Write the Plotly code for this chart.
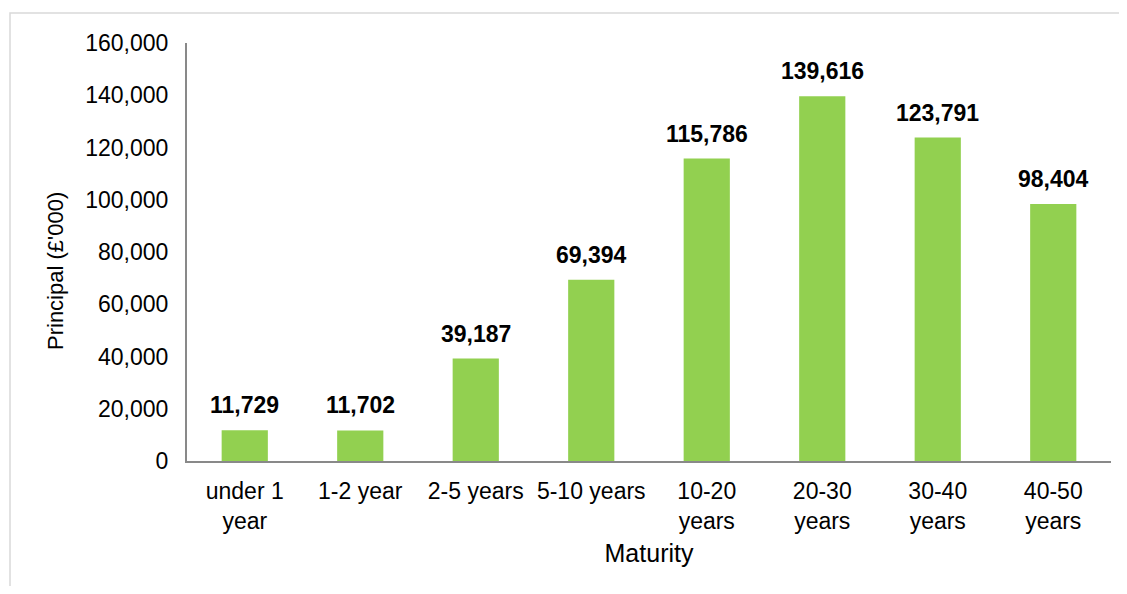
import plotly.graph_objects as go

categories = ["under 1<br>year", "1-2 year", "2-5 years", "5-10 years",
              "10-20<br>years", "20-30<br>years", "30-40<br>years", "40-50<br>years"]
principal = [11729, 11702, 39187, 69394, 115786, 139616, 123791, 98404]
y_ticks = [0, 20000, 40000, 60000, 80000, 100000, 120000, 140000, 160000]

OFF = 8  # page body margin
W, H = 1111, 578
L, R, T = 179, 8, 35
pw = W - L - R
ph = 418
B = H - T - ph

FONT = "Liberation Sans, Arial, sans-serif"

fig = go.Figure(go.Bar(
    x=categories, y=principal,
    marker=dict(color="#92D050", line=dict(width=0)),
    width=0.4,
    hoverinfo="x+y",
))

for c, v in zip(categories, principal):
    fig.add_annotation(
        x=c, y=v, text=f"<b>{v:,}</b>", showarrow=False,
        yanchor="bottom", yshift=10,
        font=dict(family=FONT, size=23, color="#000000"),
    )

# y-axis title (placed as annotation to match its offset position)
fig.add_annotation(
    xref="paper", yref="paper",
    x=(55 - OFF - L) / pw, y=(T + ph - (271 - OFF)) / ph,
    text="Principal (£'000)", textangle=-90, showarrow=False,
    xanchor="center", yanchor="middle",
    font=dict(family=FONT, size=22, color="#000000"),
)

fig.update_layout(
    width=W, height=H,
    margin=dict(l=L, r=R, t=T, b=B),
    plot_bgcolor="white", paper_bgcolor="white",
    font=dict(family=FONT, size=22, color="#000000"),
    showlegend=False,
    xaxis=dict(
        showline=True, linecolor="#898989", linewidth=2,
        ticks="", showgrid=False,
        tickfont=dict(size=23),
        ticklabelstandoff=8,
        title=dict(text="Maturity", font=dict(size=25), standoff=12),
    ),
    yaxis=dict(
        range=[0, 160000], tickvals=y_ticks,
        ticktext=[f"{v:,}" for v in y_ticks],
        showline=True, linecolor="#898989", linewidth=2,
        ticks="", showgrid=False, zeroline=False,
        tickfont=dict(size=23),
        ticklabelstandoff=12,
    ),
    shapes=[dict(
        type="rect", xref="paper", yref="paper",
        x0=(10 - OFF - L) / pw, x1=1.2,
        y0=-0.5, y1=(T + ph - (13 - OFF)) / ph,
        line=dict(color="#d9d9d9", width=1.5),
        fillcolor="rgba(0,0,0,0)", layer="below",
    )],
)

fig.write_html("out.html")
